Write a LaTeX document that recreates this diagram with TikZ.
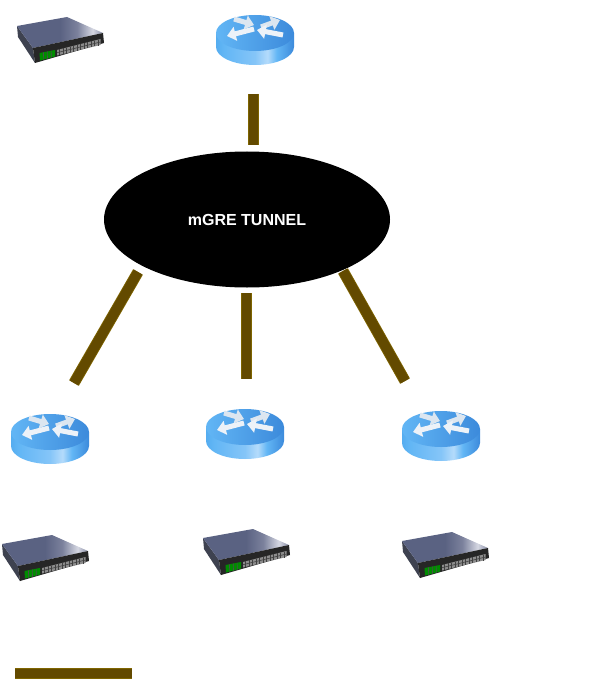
\documentclass[tikz,border=0pt]{standalone}
\usepackage{fontspec}
\setmainfont{Liberation Sans}
\usetikzlibrary{arrows.meta,calc,shapes.geometric}
\definecolor{swA}{HTML}{5A6282}
\definecolor{swB}{HTML}{7B819C}
\definecolor{swC}{HTML}{D5D7E2}
\definecolor{swD}{HTML}{70789A}
\definecolor{swL}{HTML}{3E4250}
\definecolor{rtA}{HTML}{55ADF0}
\definecolor{rtB}{HTML}{62B6F5}
\definecolor{rtC}{HTML}{85C5F8}
\definecolor{rtH}{HTML}{B4DBFB}
\definecolor{rtD}{HTML}{3C8ADB}
\definecolor{arrA}{HTML}{EDF2F8}
\definecolor{arrB}{HTML}{DCE6F0}
\definecolor{barfill}{HTML}{634A00}
\definecolor{baredge}{HTML}{7F6500}
\pgfdeclarehorizontalshading{swtop}{100bp}{color(0bp)=(swA); color(50bp)=(swA); color(60bp)=(swB); color(69bp)=(swC); color(76bp)=(swB); color(100bp)=(swD)}
\pgfdeclarehorizontalshading{rtside}{100bp}{color(0bp)=(rtA); color(25bp)=(rtA); color(30bp)=(rtB); color(50bp)=(rtC); color(58bp)=(rtH); color(64bp)=(rtB); color(75bp)=(rtD); color(100bp)=(rtD)}
\tikzset{
  bar/.style={draw=baredge,double=barfill,double distance=7.2pt,line width=0.6pt,line cap=butt},
  rarrow/.style={line width=3.8pt,draw=#1,-{Triangle[length=6.5pt,width=10.5pt]}},
  routerpic/.pic={
    \shade[shading=rtside] (-39,-7) -- (-39,7) arc[start angle=180,end angle=0,x radius=39,y radius=18] -- (39,-7) -- cycle;
    \shade[left color=rtB,right color=rtD] (0,-7) ellipse[x radius=39,y radius=18];
    \draw[rarrow=arrB] (-21,-21) -- (-1,-15);
    \draw[rarrow=arrA] (-1,-11) -- (-28,-4);
    \draw[rarrow=arrB] (6,-13) -- (25,-20);
    \draw[rarrow=arrA] (28,-5) -- (2,-10);
  },
  switchpic/.pic={
    \fill[swL] (-43,-14) -- (-27,8) -- (-25,23) -- (-42,-3) -- cycle;
    \shade[shading=swtop] (-43,-14) -- (7,-23) -- (43,-7) -- (-27,8) -- cycle;
    \fill[black!85] (-27,8) -- (43,-7) -- (44,3) -- (-25,23) -- cycle;
    \fill[green!55!black] (-20.5,13) -- (-5,10) -- (-5,16.5) -- (-20,20.5) -- cycle;
    \foreach \t in {0.25,0.5,0.75}{
      \draw[black!70,line width=.5pt] ($(-20.5,13)!\t!(-5,10)$) -- ($(-20,20.5)!\t!(-5,16.5)$);
    }
    \fill[black!45] (-3,10) -- (40.5,-1) -- (40.5,5) -- (-3,15.5) -- cycle;
    \foreach \t in {0.06,0.14,...,1}{
      \draw[black!75,line width=.45pt] ($(-3,10)!\t!(40.5,-1)$) -- ($(-3,15.5)!\t!(40.5,5)$);
    }
    \draw[black!75,line width=.45pt] (-3,12.7) -- (40.5,2);
  },
}
\begin{document}
\begin{tikzpicture}[x=0.75pt,y=-0.75pt]
\path[use as bounding box] (0,0) rectangle (610,688);
\node[ellipse,fill=black,inner sep=0pt,minimum width=214.5pt,minimum height=102pt,text=white,font=\bfseries\fontsize{12pt}{14pt}\selectfont] (tunnel) at (247,219.5) {mGRE TUNNEL};
\pic (swtop) at (60,40) {switchpic};
\pic (rtop) at (255,40) {routerpic};
\pic (rleft) at (50,439) {routerpic};
\pic (rmid) at (245,434) {routerpic};
\pic (rright) at (441,436) {routerpic};
\pic (swleft) at (45,558) {switchpic};
\pic (swmid) at (246,552) {switchpic};
\pic (swright) at (445,555) {switchpic};
\coordinate (a1) at (253.5,94);
\coordinate (a2) at (253.5,145);
\coordinate (b1) at (246.5,293);
\coordinate (b2) at (246.5,379);
\coordinate (c1) at (138,272);
\coordinate (c2) at (74,383);
\coordinate (d1) at (343,271);
\coordinate (d2) at (405,381);
\coordinate (e1) at (15,673.5);
\coordinate (e2) at (132,673.5);
\draw[bar] (a1) -- (a2);
\draw[bar] (b1) -- (b2);
\draw[bar] (c1) -- (c2);
\draw[bar] (d1) -- (d2);
\draw[bar] (e1) -- (e2);
\end{tikzpicture}
\end{document}
